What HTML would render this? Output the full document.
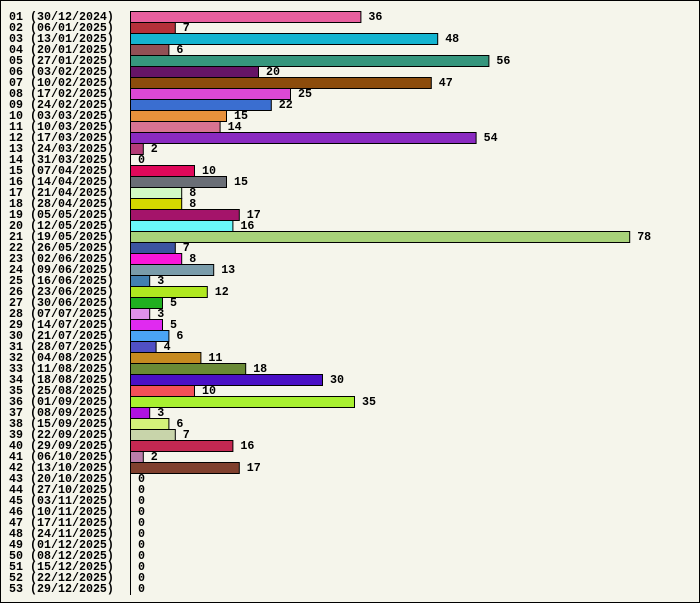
<!DOCTYPE html>
<html><head><meta charset="utf-8"><style>
html,body{margin:0;padding:0;background:#f5f5eb;}
svg{display:block}
text{font-family:"Liberation Mono","DejaVu Sans Mono",monospace;font-weight:bold;font-size:11.67px;fill:#000}
</style></head><body>
<svg width="700" height="603" viewBox="0 0 700 603" xmlns="http://www.w3.org/2000/svg">
<rect x="0.5" y="0.5" width="699" height="602" fill="#f5f5eb" stroke="#000"/>
<g id="g"></g>
</svg>
<script>
const d=[["30/12/2024",36,"#e8609e"],["06/01/2025",7,"#b5303a"],["13/01/2025",48,"#14b4d0"],["20/01/2025",6,"#925055"],["27/01/2025",56,"#36967d"],["03/02/2025",20,"#661466"],["10/02/2025",47,"#8c4c0c"],["17/02/2025",25,"#dd48d5"],["24/02/2025",22,"#3a6ed0"],["03/03/2025",15,"#e8923c"],["10/03/2025",14,"#d87392"],["17/03/2025",54,"#8a2ac0"],["24/03/2025",2,"#b43c78"],["31/03/2025",0,"#fff"],["07/04/2025",10,"#e0085a"],["14/04/2025",15,"#6a6e76"],["21/04/2025",8,"#d2fac4"],["28/04/2025",8,"#d4d800"],["05/05/2025",17,"#a4146a"],["12/05/2025",16,"#6af8fa"],["19/05/2025",78,"#a8d27a"],["26/05/2025",7,"#3c54a0"],["02/06/2025",8,"#fa16da"],["09/06/2025",13,"#7a9caa"],["16/06/2025",3,"#4280b0"],["23/06/2025",12,"#b0e820"],["30/06/2025",5,"#20b020"],["07/07/2025",3,"#e090ea"],["14/07/2025",5,"#e02af0"],["21/07/2025",6,"#4aa4f6"],["28/07/2025",4,"#5050c4"],["04/08/2025",11,"#c68a20"],["11/08/2025",18,"#6a8a36"],["18/08/2025",30,"#4a10c6"],["25/08/2025",10,"#f45058"],["01/09/2025",35,"#a8f030"],["08/09/2025",3,"#b012e0"],["15/09/2025",6,"#d4f27a"],["22/09/2025",7,"#c8d4aa"],["29/09/2025",16,"#c42852"],["06/10/2025",2,"#ba7ca8"],["13/10/2025",17,"#80402e"],["20/10/2025",0],["27/10/2025",0],["03/11/2025",0],["10/11/2025",0],["17/11/2025",0],["24/11/2025",0],["01/12/2025",0],["08/12/2025",0],["15/12/2025",0],["22/12/2025",0],["29/12/2025",0]];
let s='<line x1="130.5" y1="11" x2="130.5" y2="595" stroke="#000"/>';
d.forEach((r,i)=>{const y=11+i*11;const w=r[1]*6.4;const n=String(i+1).padStart(2,'0');
s+=`<text x="9" y="${y+9}">${n} (${r[0]})</text>`;
if(r[1]>0)s+=`<rect x="130.5" y="${y+0.5}" width="${w.toFixed(1)}" height="11" fill="${r[2]}" stroke="#000"/>`;
s+=`<text x="${(130+w+8).toFixed(1)}" y="${y+9}">${r[1]}</text>`;});
document.getElementById('g').innerHTML=s;
</script>
</body></html>
